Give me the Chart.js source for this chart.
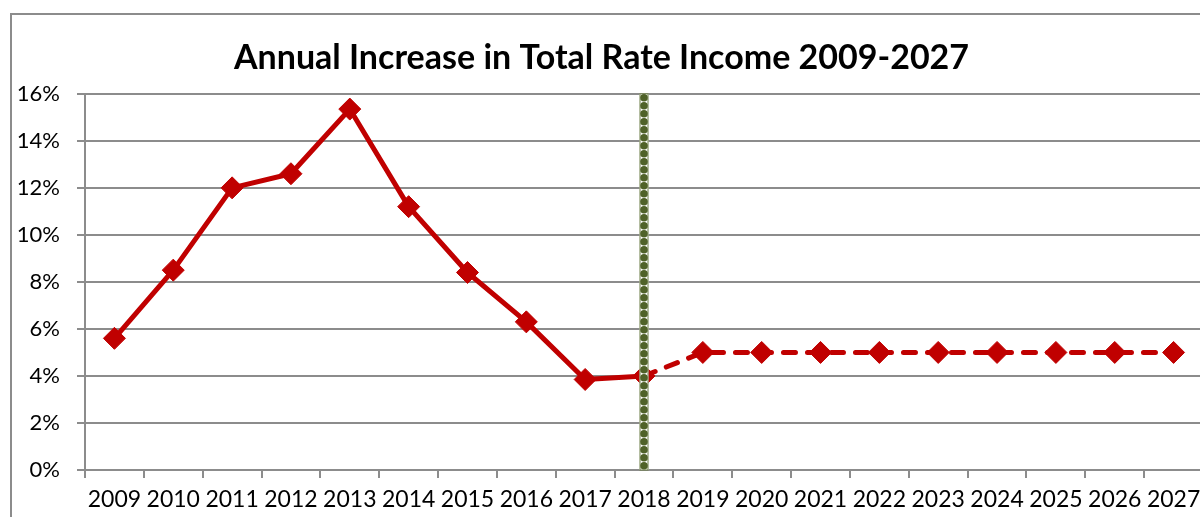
<!DOCTYPE html>
<html lang="en">
<head>
<meta charset="UTF-8">
<title>Annual Increase in Total Rate Income 2009-2027</title>
<script src="https://cdn.jsdelivr.net/npm/chart.js"></script>
<style>
    body { margin: 0; background: #fff; overflow: hidden; }
    .frame {
        position: absolute; left: 10px; top: 13px;
        width: 1400px; height: 700px;
        border: 2px solid #8c8c8c;
    }
    #rateChart { position: absolute; left: 0; top: 0; }
</style>
</head>
<body>
<div class="frame"></div>
<canvas id="rateChart" width="1215" height="517"></canvas>
<script>
// --- Data ---
const years = ['2009', '2010', '2011', '2012', '2013', '2014', '2015', '2016', '2017', '2018',
               '2019', '2020', '2021', '2022', '2023', '2024', '2025', '2026', '2027'];
// annual increase, percent (2019 onwards is forecast)
const increase = [5.6, 8.5, 12.0, 12.6, 15.35, 11.2, 8.4, 6.3, 3.85, 4.0,
                  5.0, 5.0, 5.0, 5.0, 5.0, 5.0, 5.0, 5.0, 5.0];
const forecastFrom = '2018';  // dashed from this year on, divider drawn here
const yTicks = [0, 2, 4, 6, 8, 10, 12, 14, 16];

const red = '#c00000';
const gridGray = '#8c8c8c';
const font = "Lato, 'Open Sans', sans-serif";

// green dotted divider at the last actual year
const dividerPlugin = {
    id: 'divider',
    afterDatasetsDraw(chart) {
        const { ctx, chartArea, scales } = chart;
        const x = scales.x.getPixelForValue(years.indexOf(forecastFrom));
        const w = 9;
        ctx.save();
        ctx.fillStyle = '#ffffff';
        ctx.fillRect(x - w / 2, chartArea.top, w, chartArea.bottom - chartArea.top);
        ctx.strokeStyle = '#6b7d45';
        ctx.lineWidth = 1;
        ctx.strokeRect(x - w / 2 + 0.5, chartArea.top, w - 1, chartArea.bottom - chartArea.top);
        ctx.fillStyle = '#4f6228';
        for (let y = chartArea.top + 4; y < chartArea.bottom - 2; y += 8) {
            ctx.beginPath();
            ctx.arc(x, y, 3.8, 0, Math.PI * 2);
            ctx.fill();
        }
        ctx.restore();
    }
};

const cutIndex = years.indexOf(forecastFrom);

new Chart(document.getElementById('rateChart'), {
    type: 'line',
    data: {
        labels: years,
        datasets: [{
            data: increase,
            borderColor: red,
            backgroundColor: red,
            borderWidth: 5,
            borderCapStyle: 'round',
            borderJoinStyle: 'round',
            pointStyle: 'rectRot',
            pointRadius: 11,
            pointBorderWidth: 1,
            pointBackgroundColor: red,
            pointBorderColor: red,
            tension: 0,
            segment: {
                borderDash: c => c.p0DataIndex >= cutIndex ? [12, 12] : undefined
            }
        }]
    },
    options: {
        responsive: false,
        animation: false,
        layout: { padding: { left: 0, right: 12, top: 0, bottom: 0 } },
        plugins: {
            legend: { display: false },
            tooltip: { enabled: false },
            title: {
                display: true,
                text: 'Annual Increase in Total Rate Income 2009-2027',
                color: '#000',
                font: { family: font, size: 34, weight: 'bold', lineHeight: 1.2 },
                padding: { top: 38, bottom: 15 }
            }
        },
        scales: {
            x: {
                offset: true,
                grid: {
                    offset: true,
                    drawOnChartArea: false,
                    color: gridGray,
                    lineWidth: 2,
                    tickLength: 8
                },
                border: { color: gridGray, width: 2 },
                ticks: {
                    color: '#000',
                    font: { family: font, size: 23 },
                    maxRotation: 0,
                    autoSkip: false,
                    padding: 8
                },
                afterFit: s => { s.height = 47; }
            },
            y: {
                min: 0,
                max: 16,
                afterBuildTicks: s => { s.ticks = yTicks.map(v => ({ value: v })); },
                grid: { color: gridGray, lineWidth: 2, tickLength: 8 },
                border: { color: gridGray, width: 2 },
                ticks: {
                    color: '#000',
                    font: { family: font, size: 22 },
                    padding: 17,
                    callback: v => v + '%'
                },
                afterFit: s => { s.width = 85; }
            }
        }
    },
    plugins: [dividerPlugin]
});
</script>
</body>
</html>
